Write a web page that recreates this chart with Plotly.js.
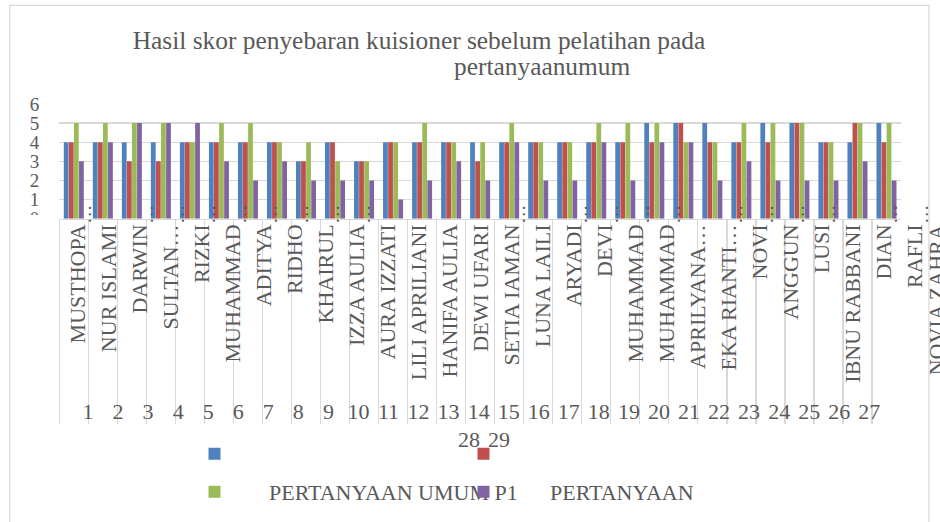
<!DOCTYPE html>
<html>
<head>
<meta charset="utf-8">
<script src="https://cdn.plot.ly/plotly-3.0.1.min.js"></script>
<style>
html, body { margin: 0; padding: 0; background: #ffffff; }
#chart { width: 940px; height: 522px; }
</style>
</head>
<body>
<div id="chart"></div>
<script>
// ---------------- DATA ----------------
const numbers = ['1','2','3','4','5','6','7','8','9','10','11','12','13','14','15',
                 '16','17','18','19','20','21','22','23','24','25','26','27','28','29'];
const names = ['MUSTHOPA','NUR ISLAMI','DARWIN','SULTAN…','RIZKI','MUHAMMAD','ADITYA','RIDHO',
               'KHAIRUL','IZZA AULIA','AURA IZZATI','LILI APRILIANI','HANIFA AULIA','DEWI UFARI',
               'SETIA IAMAN','LUNA LAILI','ARYADI','DEVI','MUHAMMAD','MUHAMMAD','APRILYANA…',
               'EKA RIANTI…','NOVI','ANGGUN','LUSI','IBNU RABBANI','DIAN','RAFLI','NOVIA ZAHRA'];
// truncated second line of the name labels ("…" where Excel cut the text)
const nameOverflow = ['…','','…','…','…','…','…','…','…','…','','','','','…','','…','…','…','…',
                      '','…','…','…','…','','…','…',''];
const seriesBlue   = [4,4,4,4,4,4,4,4,3,4,3,4,4,4,4,4,4,4,4,4,5,5,5,4,5,5,4,4,5];
const seriesRed    = [4,4,3,3,4,4,4,4,3,4,3,4,4,4,3,4,4,4,4,4,4,5,4,4,4,5,4,5,4];
const seriesGreen  = [5,5,5,5,4,5,5,4,4,3,3,4,5,4,4,5,4,4,5,5,5,4,4,5,5,5,4,5,5];
const seriesPurple = [3,4,5,5,5,3,2,3,2,2,2,1,2,3,2,4,2,2,4,2,4,4,2,3,2,2,2,3,2];
const legendLabels = ['', '', 'PERTANYAAN UMUM P1', 'PERTANYAAN'];
const yTicks = [0,1,2,3,4,5,6];
const titleLine1 = 'Hasil skor penyebaran kuisioner sebelum pelatihan pada';
const titleLine2 = 'pertanyaanumum';

// ---------------- STYLE / LAYOUT ----------------
const W = 940, H = 522;
const fx = x => x / W;
const fy = y => 1 - y / H;
const FONT = 'Liberation Serif, Times New Roman, serif';
const TXT = '#595959';
const GRID = '#d9d9d9';
const colors = ['#4F81BD', '#C0504D', '#9BBB59', '#8064A2'];
const legendIds = ['legend', 'legend2', 'legend3', 'legend4'];

const plotL = 59.3, plotR = 901, plotT = 104, plotB = 218.7;

// label axis spanning the whole width: value v0 lands at pixel p0, step px per unit
function rangeFor(v0, p0, step) { return [v0 - p0 / step, v0 + (W - p0) / step]; }
function hiddenY(anchor, axisPx) {
  return { domain: [fy(axisPx), fy(axisPx) + 0.004], anchor: anchor, visible: false, range: [0, 1] };
}
function labelX(anchor, range, vals, texts, angle, size) {
  return {
    domain: [0, 1], anchor: anchor, type: 'linear', range: range,
    tickmode: 'array', tickvals: vals, ticktext: texts, tickangle: angle,
    tickfont: { family: FONT, size: size, color: TXT }, ticklabeloverflow: 'allow',
    showgrid: false, zeroline: false, showline: false, ticks: ''
  };
}

const idx = names.map((_, i) => i);
const nums = numbers.map(Number);
const series = [seriesBlue, seriesRed, seriesGreen, seriesPurple];
const last = names.length - 1;

const traces = series.map((vals, s) => ({
  type: 'bar', x: numbers, y: vals, name: legendLabels[s],
  marker: { color: colors[s], line: { width: 0 } },
  legend: legendIds[s], hoverinfo: 'skip'
}));
// empty helper traces so that the label subplots exist
['2','3','4','5','6'].forEach(k => traces.push({
  type: 'scatter', mode: 'markers', x: [], y: [], xaxis: 'x' + k, yaxis: 'y' + k,
  showlegend: false, hoverinfo: 'skip'
}));

const dotVals = idx.filter(i => nameOverflow[i] !== '');
const dotText = dotVals.map(i => nameOverflow[i]);

function legendAt(xPx, yPx, itemwidth) {
  return {
    x: fx(xPx), y: fy(yPx), xanchor: 'left', yanchor: 'middle', xref: 'paper', yref: 'paper',
    bgcolor: 'rgba(0,0,0,0)', borderwidth: 0, itemwidth: itemwidth, orientation: 'v',
    font: { family: FONT, size: 22, color: TXT }
  };
}

const layout = {
  width: W, height: H,
  margin: { l: 0, r: 0, t: 0, b: 0, pad: 0 },
  paper_bgcolor: '#ffffff', plot_bgcolor: 'rgba(0,0,0,0)',
  font: { family: FONT, color: TXT, size: 22 },
  barmode: 'group', bargap: 0.3, bargroupgap: 0.06,
  showlegend: true,
  title: {
    text: titleLine1, font: { family: FONT, size: 25.4, color: TXT },
    x: fx(419), y: fy(40), xref: 'paper', yref: 'paper', xanchor: 'center', yanchor: 'middle'
  },
  annotations: [{
    text: titleLine2, x: fx(542.5), y: fy(66), xref: 'paper', yref: 'paper',
    xanchor: 'center', yanchor: 'middle', showarrow: false,
    font: { family: FONT, size: 25.4, color: TXT }
  }],
  xaxis: {
    type: 'category', domain: [fx(plotL), fx(plotR)], anchor: 'y', range: [-0.5, numbers.length - 0.5],
    showticklabels: false, ticks: 'outside', tickson: 'boundaries', ticklen: 204,
    tickwidth: 1.3, tickcolor: GRID, showline: true, linecolor: GRID, linewidth: 1.3,
    showgrid: false, zeroline: false
  },
  yaxis: {
    domain: [fy(plotB), fy(plotT)], anchor: 'x', range: [0, 6],
    tickmode: 'array', tickvals: yTicks, ticktext: yTicks.map(String),
    gridcolor: GRID, gridwidth: 1.3, zeroline: false, showline: false, ticks: '',
    tickfont: { family: FONT, size: 19, color: TXT }, ticklabelstandoff: 19
  },
  // names (rotated), the last one is cut by the chart edge
  xaxis2: labelX('y2', rangeFor(0, 77.5, 31), idx.slice(0, last), names.slice(0, last), -90, 22),
  yaxis2: hiddenY('x2', 219),
  xaxis6: labelX('y6', rangeFor(last, 937, 31), [last], [names[last]], -90, 22),
  yaxis6: hiddenY('x6', 219),
  // numbers row
  xaxis3: labelX('y3', rangeFor(1, 88, 30.05), nums.slice(0, 27), numbers.slice(0, 27), 0, 22),
  yaxis3: hiddenY('x3', 396),
  // wrapped numbers 28, 29
  xaxis4: labelX('y4', rangeFor(28, 469, 30.05), nums.slice(27), numbers.slice(27), 0, 22),
  yaxis4: hiddenY('x4', 424),
  // truncated overflow "…"
  xaxis5: labelX('y5', rangeFor(0, 84.5, 31), dotVals, dotText, -90, 19),
  yaxis5: hiddenY('x5', 200),
  legend: legendAt(194.5, 454, 30),
  legend2: legendAt(463.5, 454, 30),
  legend3: legendAt(160, 492, 99),
  legend4: legendAt(417, 492, 123),
  shapes: [
    { type: 'rect', xref: 'paper', yref: 'paper', x0: fx(9.7), x1: fx(929), y0: fy(5.3), y1: fy(560),
      line: { color: GRID, width: 1.3 }, fillcolor: 'rgba(0,0,0,0)', layer: 'below' },
    { type: 'rect', xref: 'paper', yref: 'paper', x0: fx(14), x1: fx(54), y0: fy(215), y1: fy(240),
      line: { width: 0 }, fillcolor: '#ffffff', layer: 'above' }
  ]
};

Plotly.newPlot('chart', traces, layout, { staticPlot: true, displayModeBar: false });
</script>
</body>
</html>
